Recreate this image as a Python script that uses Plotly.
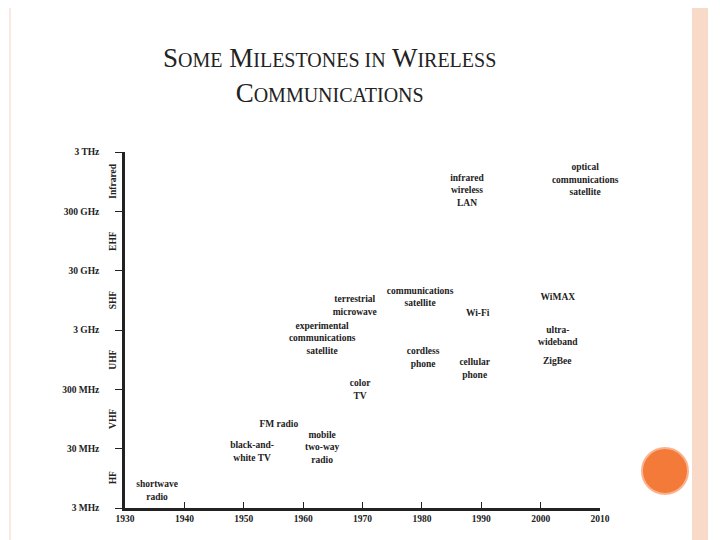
import plotly.graph_objects as go
import math

labels = ["shortwave<br>radio", "black-and-<br>white TV", "FM radio", "mobile<br>two-way<br>radio",
          "color<br>TV", "experimental<br>communications<br>satellite", "terrestrial<br>microwave",
          "communications<br>satellite", "cordless<br>phone", "cellular<br>phone", "Wi-Fi",
          "infrared<br>wireless<br>LAN", "optical<br>communications<br>satellite", "WiMAX",
          "ultra-<br>wideband", "ZigBee"]
years = [1935.4, 1951.4, 1955.9, 1963.2, 1969.6, 1963.2, 1968.7, 1979.7, 1980.2, 1988.9,
         1989.4, 1987.6, 2007.5, 2002.9, 2002.9, 2002.8]
log_freq = [6.76, 7.42, 7.876, 7.488, 8.466, 9.325, 9.88, 10.02, 9.005, 8.82,
            9.76, 11.82, 12.0, 10.02, 9.36, 8.94]
tick_vals = [3e6, 3e7, 3e8, 3e9, 3e10, 3e11, 3e12]
tick_text = ["3 MHz", "30 MHz", "300 MHz", "3 GHz", "30 GHz", "300 GHz", "3 THz"]
bands = ["HF", "VHF", "UHF", "SHF", "EHF", "Infrared"]
band_centers = [9.5e6, 9.5e7, 9.5e8, 9.5e9, 9.5e10, 9.5e11]
year_ticks = [1930, 1940, 1950, 1960, 1970, 1980, 1990, 2000, 2010]

freqs = [10 ** v for v in log_freq]
fnt = dict(family="Liberation Serif", size=9.5, color="#222", weight="bold")

def px(sx):
    return (sx - 123) / 475

def py(sy):
    return (507 - sy) / 356

fig = go.Figure(go.Scatter(x=years, y=freqs, mode="text", text=labels, cliponaxis=False,
                           textfont=fnt, hoverinfo="skip"))

for b, c in zip(bands, band_centers):
    fig.add_annotation(x=px(111), xref="paper", y=math.log10(c), yref="y", text=b,
                       textangle=-90, showarrow=False, font=fnt, xanchor="center",
                       yanchor="middle")

S = "font-size:20px"
fig.add_annotation(x=px(327), y=py(75), xref="paper", yref="paper", yanchor="middle",
                   xanchor="center", showarrow=False, align="center",
                   text=f"S<span style='{S}'>OME</span> M<span style='{S}'>ILESTONES IN</span> W<span style='{S}'>IRELESS</span><br>"
                        f"C<span style='{S}'>OMMUNICATIONS</span>",
                   font=dict(family="Liberation Serif", size=27, color="#222"))

shapes = [
    dict(type="rect", xref="paper", yref="paper", x0=px(690), x1=px(706),
         y0=-0.2, y1=1.6, fillcolor="#f9d9c8", line=dict(width=0), layer="below"),
    dict(type="line", xref="paper", yref="paper", x0=px(712), x1=px(712),
         y0=-0.2, y1=1.6, line=dict(color="#f6c4ad", width=2)),
    dict(type="line", xref="paper", yref="paper", x0=px(8), x1=px(8),
         y0=-0.2, y1=1.6, line=dict(color="#f3d2c2", width=1)),
    dict(type="circle", xref="paper", yref="paper", x0=px(640), x1=px(686),
         y0=py(493), y1=py(447), fillcolor="#f47a3a",
         line=dict(color="#f9b48f", width=2)),
]

fig.update_layout(
    width=720, height=540, paper_bgcolor="white", plot_bgcolor="white",
    margin=dict(l=117, r=128, t=144, b=40), showlegend=False, shapes=shapes,
    xaxis=dict(range=[1930, 2010], tickvals=year_ticks, ticks="inside", ticklen=6,
               tickcolor="#222", showgrid=False, zeroline=False, showline=True,
               linecolor="#222", linewidth=2.5, tickfont=fnt),
    yaxis=dict(type="log", range=[6.4771, 12.4771], tickvals=tick_vals, ticktext=tick_text,
               ticks="outside", ticklen=7, tickcolor="#222", showgrid=False, showline=True,
               linecolor="#222", linewidth=2.5, tickfont=fnt, ticklabelstandoff=14),
)
fig.write_html("out.html")
